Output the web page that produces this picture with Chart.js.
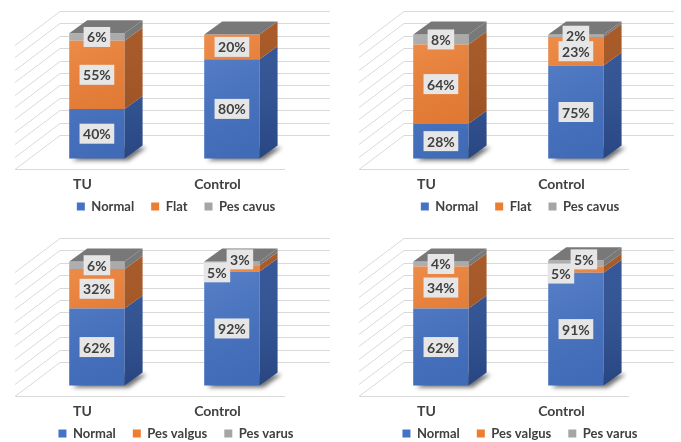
<!DOCTYPE html>
<html>
<head>
<meta charset="utf-8">
<script src="https://cdn.jsdelivr.net/npm/chart.js@4.4.1/dist/chart.umd.min.js"></script>
<style>
  html, body { margin: 0; padding: 0; background: #fff; width: 681px; height: 442px; overflow: hidden; }
  .panel { position: absolute; width: 337px; height: 221px; }
</style>
</head>
<body>
<div class="panel" style="left:0;top:0"><canvas id="chart-arch-1"></canvas></div>
<div class="panel" style="left:344px;top:0"><canvas id="chart-arch-2"></canvas></div>
<div class="panel" style="left:0;top:227px"><canvas id="chart-heel-1"></canvas></div>
<div class="panel" style="left:344px;top:227px"><canvas id="chart-heel-2"></canvas></div>
<script>
// data
const categories = ['TU', 'Control'];
const archSeries = ['Normal', 'Flat', 'Pes cavus'];
const heelSeries = ['Normal', 'Pes valgus', 'Pes varus'];

// top left
const normalA1 = [40, 80];
const flatA1 = [55, 20];
const cavusA1 = [6, 0];
// top right
const normalA2 = [28, 75];
const flatA2 = [64, 23];
const cavusA2 = [8, 2];
// bottom left
const normalH1 = [62, 92];
const valgusH1 = [32, 5];
const varusH1 = [6, 3];
// bottom right
const normalH2 = [62, 91];
const valgusH2 = [34, 5];
const varusH2 = [4, 5];

const yMax = 100;
const yStep = 10;

// look
const FRONT = ['#4472c4', '#ed7d31', '#a5a5a5'];
const SIDE = ['#2c4f93', '#a4521e', '#727272'];
const TOP_FACE = '#787878';
const TEXT = '#404040';
const BAR_DEPTH = { x: 18, y: -13 };   // depth of one column
const SHIFT = { x: 14.4, y: -10.5 };   // floor front -> column front
const WALL = { x: 45, y: -34 };        // floor front -> back wall

Chart.defaults.font.family = 'Lato';
Chart.defaults.color = TEXT;

const box3d = {
    id: 'box3d',
    beforeDatasetsDraw(chart) {
        const { ctx, chartArea: a, scales: { y } } = chart;
        ctx.save();
        ctx.strokeStyle = '#d9d9d9';
        ctx.lineWidth = 1;
        y.ticks.forEach(t => {
            const py = Math.round(y.getPixelForValue(t.value)) + 0.5;
            ctx.beginPath();
            ctx.moveTo(a.left, py);
            ctx.lineTo(a.left + WALL.x, py + WALL.y);
            ctx.lineTo(a.right + WALL.x, py + WALL.y);
            ctx.stroke();
        });
        ctx.beginPath();
        ctx.moveTo(a.left, a.bottom + 0.5);
        ctx.lineTo(a.right, a.bottom + 0.5);
        ctx.stroke();
        ctx.restore();

        ctx.save();
        ctx.translate(SHIFT.x, SHIFT.y);

        // soft shadow under each column
        const first = chart.getDatasetMeta(0).data;
        ctx.save();
        ctx.filter = 'blur(2px)';
        ctx.fillStyle = 'rgba(0,0,0,0.55)';
        first.forEach(el => {
            const { x, width, base } = el.getProps(['x', 'width', 'base'], true);
            const xl = x - width / 2 + 3, xr = x + width / 2 + 4, b = base + 2;
            ctx.beginPath();
            ctx.moveTo(xl, b);
            ctx.lineTo(xr, b);
            ctx.lineTo(xr + BAR_DEPTH.x, b + BAR_DEPTH.y);
            ctx.lineTo(xl + BAR_DEPTH.x, b + BAR_DEPTH.y);
            ctx.closePath();
            ctx.fill();
        });
        ctx.restore();
    },
    afterDatasetsDraw(chart) {
        const { ctx } = chart;
        const n = chart.data.datasets.length;
        const metas = chart.data.datasets.map((_, i) => chart.getDatasetMeta(i).data);

        categories.forEach((_, j) => {
            const bottomEl = metas[0][j].getProps(['x', 'width', 'base'], true);
            const topEl = metas[n - 1][j].getProps(['y'], true);
            const xl = bottomEl.x - bottomEl.width / 2;
            const xr = bottomEl.x + bottomEl.width / 2;

            // side faces
            for (let i = 0; i < n; i++) {
                const el = metas[i][j].getProps(['y', 'base'], true);
                if (Math.abs(el.base - el.y) < 0.1) continue;
                ctx.fillStyle = SIDE[i];
                ctx.beginPath();
                ctx.moveTo(xr, el.y);
                ctx.lineTo(xr + BAR_DEPTH.x, el.y + BAR_DEPTH.y);
                ctx.lineTo(xr + BAR_DEPTH.x, el.base + BAR_DEPTH.y);
                ctx.lineTo(xr, el.base);
                ctx.closePath();
                ctx.fill();
            }
            // shading on side
            const sg = ctx.createLinearGradient(0, topEl.y, 0, bottomEl.base);
            sg.addColorStop(0, 'rgba(255,255,255,0.05)');
            sg.addColorStop(1, 'rgba(0,0,0,0.12)');
            ctx.fillStyle = sg;
            ctx.beginPath();
            ctx.moveTo(xr, topEl.y);
            ctx.lineTo(xr + BAR_DEPTH.x, topEl.y + BAR_DEPTH.y);
            ctx.lineTo(xr + BAR_DEPTH.x, bottomEl.base + BAR_DEPTH.y);
            ctx.lineTo(xr, bottomEl.base);
            ctx.closePath();
            ctx.fill();

            // top face
            ctx.fillStyle = TOP_FACE;
            ctx.beginPath();
            ctx.moveTo(xl, topEl.y);
            ctx.lineTo(xl + BAR_DEPTH.x, topEl.y + BAR_DEPTH.y);
            ctx.lineTo(xr + BAR_DEPTH.x, topEl.y + BAR_DEPTH.y);
            ctx.lineTo(xr, topEl.y);
            ctx.closePath();
            ctx.fill();

            // light from top-left on the front
            const fg = ctx.createLinearGradient(xl, topEl.y, xr, bottomEl.base);
            fg.addColorStop(0, 'rgba(255,255,255,0.12)');
            fg.addColorStop(1, 'rgba(0,0,0,0.07)');
            ctx.fillStyle = fg;
            ctx.fillRect(xl, topEl.y, xr - xl, bottomEl.base - topEl.y);

            // data labels
            const labels = [];
            for (let i = 0; i < n; i++) {
                const v = chart.data.datasets[i].data[j];
                if (!v) continue;
                const el = metas[i][j].getProps(['x', 'y', 'base'], true);
                labels.push({ x: el.x, y: (el.y + el.base) / 2, text: v + '%' });
            }
            // small neighbours get pushed apart, like Excel does
            for (let k = 1; k < labels.length; k++) {
                if (Math.abs(labels[k].y - labels[k - 1].y) < 12) {
                    labels[k - 1].x -= 15; labels[k - 1].y += 4;
                    labels[k].x += 8; labels[k].y -= 4;
                }
            }
            ctx.font = 'bold 14px Lato';
            ctx.textAlign = 'center';
            ctx.textBaseline = 'middle';
            labels.forEach(l => {
                const w = ctx.measureText(l.text).width + 7;
                ctx.fillStyle = '#e6e6e6';
                ctx.fillRect(l.x - w / 2, l.y - 10, w, 20);
                ctx.fillStyle = TEXT;
                ctx.fillText(l.text, l.x, l.y + 1);
            });
        });

        ctx.restore();
    }
};

function makeChart(id, names, series) {
    const ctx = document.getElementById(id);
    return new Chart(ctx, {
        type: 'bar',
        data: {
            labels: categories,
            datasets: names.map((name, i) => ({
                label: name,
                data: series[i],
                backgroundColor: FRONT[i],
                borderWidth: 0,
                clip: false,
                categoryPercentage: 1,
                barPercentage: 0.41
            }))
        },
        options: {
            responsive: true,
            maintainAspectRatio: false,
            animation: false,
            layout: { padding: { top: 45, left: 15, right: 0, bottom: -2 } },
            scales: {
                x: {
                    stacked: true,
                    grid: { display: false, drawTicks: false },
                    border: { display: false },
                    // mirrored with negative padding so the labels hang below a thin axis box
                    ticks: { mirror: true, padding: -24, font: { size: 14, weight: 'bold' }, color: TEXT },
                    afterFit: s => { s.height = 14; }
                },
                y: {
                    stacked: true,
                    position: 'right',
                    min: 0,
                    max: yMax,
                    ticks: { display: false, stepSize: yStep },
                    grid: { display: false },
                    border: { display: false },
                    afterFit: s => { s.width = 52; }
                }
            },
            plugins: {
                legend: {
                    position: 'bottom',
                    labels: {
                        boxWidth: 8,
                        boxHeight: 8,
                        padding: 17,
                        color: TEXT,
                        font: { size: 13, weight: 'bold' }
                    }
                },
                tooltip: { enabled: false }
            }
        },
        plugins: [box3d]
    });
}

makeChart('chart-arch-1', archSeries, [normalA1, flatA1, cavusA1]);
makeChart('chart-arch-2', archSeries, [normalA2, flatA2, cavusA2]);
makeChart('chart-heel-1', heelSeries, [normalH1, valgusH1, varusH1]);
makeChart('chart-heel-2', heelSeries, [normalH2, valgusH2, varusH2]);
</script>
</body>
</html>
